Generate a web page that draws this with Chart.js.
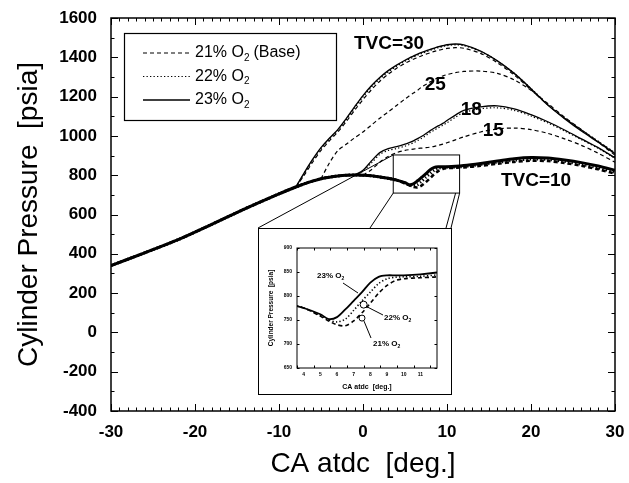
<!DOCTYPE html>
<html>
<head>
<meta charset="utf-8">
<script src="https://cdn.jsdelivr.net/npm/chart.js@4.4.1/dist/chart.umd.min.js"></script>
<style>
  body { margin: 0; background: #fff; }
  #wrap { position: relative; width: 629px; height: 483px; }
  #inset { position: absolute; left: 258px; top: 228px; width: 194px; height: 167px; background: #fff; border: 1.5px solid #000; box-sizing: border-box; }
  #inset canvas { position: absolute; left: 0; top: 0; }
</style>
</head>
<body>
<div id="wrap">
  <canvas id="pressureChart" width="629" height="483"></canvas>
  <div id="inset"><canvas id="insetChart" width="191" height="164"></canvas></div>
</div>
<script>
// crank angle (deg atdc), shared by every curve
const ca = [-30, -26, -22, -18, -14, -10, -8, -7, -6, -5, -4, -3, -2, -1, 0, 1, 2, 3, 4, 5,
  5.5, 6, 6.5, 7, 7.5, 8, 8.5, 9, 9.5, 10, 11, 12, 14, 16, 18, 20, 22, 24, 26, 28, 30];

// compression part, common to all cases
const motoring = [340, 405, 472, 550, 630, 705, 740, 756, 770, 782, 790, 796, 800, 801, 800, 797, 791, 784, 775];

// TVC=10
const o23_tvc10 = motoring.concat([762, 752, 756, 772, 790, 808, 828, 840, 843, 843, 843, 845, 849, 860, 872, 884, 890, 887, 877, 864, 847, 825]);
const o22_tvc10 = motoring.concat([760, 750, 746, 752, 770, 790, 808, 826, 836, 839, 840, 841, 844, 854, 865, 876, 882, 880, 870, 856, 838, 815]);
const o21_tvc10 = motoring.concat([758, 748, 740, 738, 748, 765, 785, 806, 822, 832, 836, 838, 840, 848, 858, 868, 874, 872, 862, 848, 830, 808]);

// TVC=30
const o23_tvc30 = [null, null, null, null, null, null, 740, 812, 880, 940, 988, 1032, 1088, 1148, 1205, 1255, 1297, 1332, 1360, 1385,
  1396, 1406, 1416, 1425, 1433, 1440, 1447, 1454, 1459, 1464, 1468, 1463, 1432, 1382, 1318, 1240, 1157, 1088, 1025, 968, 910];
const o22_tvc30 = [null, null, null, null, null, null, 740, 808, 876, 936, 984, 1028, 1083, 1142, 1199, 1249, 1291, 1326, 1355, 1380,
  1391, 1401, 1411, 1420, 1428, 1436, 1443, 1450, 1455, 1460, 1464, 1460, 1430, 1381, 1318, 1241, 1160, 1092, 1030, 972, 914];
const o21_tvc30 = [null, null, null, null, null, null, 740, 800, 866, 926, 975, 1020, 1072, 1130, 1185, 1235, 1278, 1314, 1344, 1369,
  1380, 1390, 1399, 1408, 1416, 1423, 1430, 1436, 1441, 1445, 1449, 1446, 1420, 1372, 1310, 1235, 1158, 1090, 1030, 972, 912];

// TVC=25 (base only)
const o21_tvc25 = [null, null, null, null, null, null, null, null, null, 782, 862, 925, 957, 990, 1020, 1055, 1090, 1122, 1155, 1188,
  1203, 1218, 1232, 1250, 1262, 1275, 1287, 1297, 1305, 1312, 1322, 1328, 1330, 1318, 1285, 1232, 1165, 1095, 1032, 968, 902];

// TVC=18
const o23_tvc18 = [null, null, null, null, null, null, null, null, null, null, null, null, null, 801, 825, 872, 915, 935, 945, 958,
  966, 975, 986, 998, 1012, 1027, 1040, 1052, 1064, 1078, 1106, 1130, 1148, 1153, 1138, 1108, 1072, 1030, 985, 940, 888];
const o22_tvc18 = [null, null, null, null, null, null, null, null, null, null, null, null, null, 801, 820, 862, 905, 926, 936, 948,
  956, 965, 976, 988, 1002, 1017, 1030, 1042, 1054, 1067, 1095, 1119, 1138, 1143, 1130, 1101, 1066, 1025, 981, 937, 886];

// TVC=15 (base only)
const o21_tvc15 = [null, null, null, null, null, null, null, null, null, null, null, null, null, null, 800, 828, 866, 895, 915, 926,
  930, 933, 936, 938, 940, 943, 947, 952, 958, 965, 980, 995, 1020, 1035, 1040, 1032, 1013, 985, 952, 912, 866];

const xTicks = [-30, -20, -10, 0, 10, 20, 30];
const yTicks = [-400, -200, 0, 200, 400, 600, 800, 1000, 1200, 1400, 1600];
const insetXTicks = [4, 5, 6, 7, 8, 9, 10, 11];
const insetYTicks = [650, 700, 750, 800, 850, 900];

const FONT = '"Liberation Sans", Arial, Helvetica, sans-serif';
const DASH = [4, 3], DOT = [1.3, 2.2];

function pts(vals) {
  return ca.map((x, i) => ({ x: x, y: vals[i] }));
}
function line(vals, dash, w) {
  return { data: pts(vals), borderColor: '#000', borderWidth: w, borderDash: dash,
    pointRadius: 0, tension: 0.3, fill: false, spanGaps: false };
}

// inward ticks on all four sides plus the frame
function drawFrame(chart, o) {
  const { ctx, chartArea: a, scales: { x, y } } = chart;
  ctx.save();
  ctx.strokeStyle = '#000';
  ctx.lineWidth = o.frameWidth;
  ctx.strokeRect(a.left, a.top, a.right - a.left, a.bottom - a.top);
  ctx.lineWidth = 1;
  ctx.beginPath();
  for (let v = x.min; v <= x.max + 1e-6; v += o.xMinor) {
    const px = Math.round(x.getPixelForValue(v)) + 0.5;
    const isMajor = Math.abs(v / o.xMajor - Math.round(v / o.xMajor)) < 1e-6;
    const len = isMajor ? o.major : o.minor;
    ctx.moveTo(px, a.bottom); ctx.lineTo(px, a.bottom - len);
    ctx.moveTo(px, a.top); ctx.lineTo(px, a.top + len);
  }
  for (let v = y.min; v <= y.max + 1e-6; v += o.yMinor) {
    const py = Math.round(y.getPixelForValue(v)) + 0.5;
    const isMajor = Math.abs(v / o.yMajor - Math.round(v / o.yMajor)) < 1e-6;
    const len = isMajor ? o.major : o.minor;
    ctx.moveTo(a.left, py); ctx.lineTo(a.left + len, py);
    ctx.moveTo(a.right, py); ctx.lineTo(a.right - len, py);
  }
  ctx.stroke();
  ctx.restore();
}

// text with a subscript 2 after "O"
function o2Text(ctx, pre, post, x, y, size, bold) {
  const w = bold ? 'bold ' : '';
  ctx.font = w + size + 'px ' + FONT;
  ctx.fillText(pre, x, y);
  let cx = x + ctx.measureText(pre).width;
  ctx.font = w + Math.round(size * 0.62) + 'px ' + FONT;
  ctx.fillText('2', cx, y + size * 0.3);
  cx += ctx.measureText('2').width;
  if (post) {
    ctx.font = w + size + 'px ' + FONT;
    ctx.fillText(post, cx + size * 0.25, y);
  }
}

const mainDecor = {
  id: 'mainDecor',
  afterDraw(chart) {
    drawFrame(chart, { frameWidth: 1.5, xMajor: 10, xMinor: 1, yMajor: 200, yMinor: 100, major: 7, minor: 3.5 });
    const { ctx, scales: { x, y } } = chart;
    ctx.save();
    ctx.fillStyle = '#000';
    ctx.strokeStyle = '#000';

    // curve labels
    ctx.font = 'bold 19px ' + FONT;
    ctx.textAlign = 'center';
    ctx.textBaseline = 'middle';
    ctx.fillText('TVC=30', x.getPixelForValue(3.1), y.getPixelForValue(1468));
    ctx.fillText('25', x.getPixelForValue(8.6), y.getPixelForValue(1259));
    ctx.fillText('18', x.getPixelForValue(12.9), y.getPixelForValue(1132));
    ctx.fillText('15', x.getPixelForValue(15.5), y.getPixelForValue(1025));
    ctx.fillText('TVC=10', x.getPixelForValue(20.6), y.getPixelForValue(770));

    // legend box
    ctx.lineWidth = 1.2;
    ctx.strokeRect(124.5, 33.5, 212, 87);
    const rows = [[DASH, 1.2, '(Base)', 21], [DOT, 1.2, '', 22], [[], 1.4, '', 23]];
    ctx.textAlign = 'left';
    rows.forEach((r, i) => {
      const ly = 53 + i * 23.5;
      ctx.setLineDash(r[0]);
      ctx.lineWidth = r[1];
      ctx.beginPath();
      ctx.moveTo(143, ly); ctx.lineTo(190, ly);
      ctx.stroke();
      ctx.setLineDash([]);
      o2Text(ctx, r[3] + '% O', r[2], 195, ly, 16, false);
    });

    // zoom window and its connectors to the inset
    const bx0 = x.getPixelForValue(3.6), bx1 = x.getPixelForValue(11.5);
    const by0 = y.getPixelForValue(903), by1 = y.getPixelForValue(709);
    ctx.lineWidth = 1;
    ctx.strokeRect(bx0, by0, bx1 - bx0, by1 - by0);
    ctx.beginPath();
    ctx.moveTo(bx0, by0); ctx.lineTo(258, 228);
    ctx.moveTo(bx0, by1); ctx.lineTo(370, 228);
    ctx.moveTo(bx1, by1); ctx.lineTo(451, 228);
    ctx.moveTo(bx1 - 4, by1); ctx.lineTo(446, 228);
    ctx.stroke();
    ctx.restore();
  }
};

new Chart(document.getElementById('pressureChart').getContext('2d'), {
  type: 'line',
  data: {
    datasets: [
      line(o21_tvc10, DASH, 2.6),
      line(o22_tvc10, DOT, 3),
      line(o23_tvc10, [], 3),
      line(o21_tvc15, DASH, 1.2),
      line(o22_tvc18, DOT, 1.2),
      line(o23_tvc18, [], 1.3),
      line(o21_tvc25, DASH, 1.2),
      line(o21_tvc30, DASH, 1.2),
      line(o22_tvc30, DOT, 1.4),
      line(o23_tvc30, [], 1.4)
    ]
  },
  options: {
    responsive: false,
    animation: false,
    devicePixelRatio: 1,
    layout: { padding: { top: 18, right: 0, left: 0, bottom: 0 } },
    plugins: { legend: { display: false }, tooltip: { enabled: false } },
    scales: {
      x: {
        type: 'linear', min: -30, max: 30,
        afterBuildTicks: s => { s.ticks = xTicks.map(v => ({ value: v })); },
        afterFit: s => { s.height = 72; s.paddingLeft = 0; s.paddingRight = 14; },
        grid: { display: false, drawTicks: false },
        border: { display: false },
        ticks: { color: '#000', padding: 11, font: { family: FONT, size: 17, weight: 'bold' }, maxRotation: 0, callback: v => String(v) },
        title: { display: true, text: 'CA atdc  [deg.]', color: '#000', font: { family: FONT, size: 28 }, padding: { top: 2, bottom: 2 } }
      },
      y: {
        type: 'linear', min: -400, max: 1600,
        afterBuildTicks: s => { s.ticks = yTicks.map(v => ({ value: v })); },
        afterFit: s => { s.width = 111; s.paddingTop = 0; s.paddingBottom = 0; },
        grid: { display: false, drawTicks: false },
        border: { display: false },
        ticks: { color: '#000', padding: 14, font: { family: FONT, size: 17, weight: 'bold' }, callback: v => String(v) },
        title: { display: true, text: 'Cylinder Pressure  [psia]', color: '#000', font: { family: FONT, size: 28 }, padding: { top: 12, bottom: 0 } }
      }
    }
  },
  plugins: [mainDecor]
});

const insetDecor = {
  id: 'insetDecor',
  afterDraw(chart) {
    drawFrame(chart, { frameWidth: 1, xMajor: 1, xMinor: 1, yMajor: 50, yMinor: 50, major: 2.5, minor: 2.5 });
    const { ctx, scales: { x, y } } = chart;
    ctx.save();
    ctx.fillStyle = '#000';
    ctx.strokeStyle = '#000';
    ctx.lineWidth = 1;
    ctx.textBaseline = 'middle';
    ctx.textAlign = 'left';
    // 23 %
    o2Text(ctx, '23% O', '', 58, 47, 8, true);
    ctx.beginPath();
    ctx.moveTo(84, 54); ctx.lineTo(99, 64);
    ctx.stroke();
    // 22 %
    const c22x = x.getPixelForValue(7.6), c22y = y.getPixelForValue(782);
    ctx.beginPath(); ctx.arc(c22x, c22y, 3.5, 0, Math.PI * 2); ctx.stroke();
    ctx.beginPath(); ctx.moveTo(c22x + 3, c22y + 2); ctx.lineTo(124, 86); ctx.stroke();
    o2Text(ctx, '22% O', '', 125, 89, 8, true);
    // 21 %
    const c21x = x.getPixelForValue(7.5), c21y = y.getPixelForValue(754);
    ctx.beginPath(); ctx.arc(c21x, c21y, 3, 0, Math.PI * 2); ctx.stroke();
    ctx.beginPath(); ctx.moveTo(c21x + 2, c21y + 3); ctx.lineTo(112, 109); ctx.stroke();
    o2Text(ctx, '21% O', '', 114, 115, 8, true);
    ctx.restore();
  }
};

new Chart(document.getElementById('insetChart').getContext('2d'), {
  type: 'line',
  data: {
    datasets: [
      line(o21_tvc10, DASH, 1.6),
      line(o22_tvc10, DOT, 1.6),
      line(o23_tvc10, [], 1.8)
    ]
  },
  options: {
    responsive: false,
    animation: false,
    devicePixelRatio: 1,
    layout: { padding: { top: 19, right: 13, left: 0, bottom: 0 } },
    plugins: { legend: { display: false }, tooltip: { enabled: false } },
    scales: {
      x: {
        type: 'linear', min: 3.6, max: 12,
        afterBuildTicks: s => { s.ticks = insetXTicks.map(v => ({ value: v })); },
        afterFit: s => { s.height = 25; },
        grid: { display: false, drawTicks: false },
        border: { display: false },
        ticks: { color: '#000', padding: 4, font: { family: FONT, size: 5, weight: 'bold' }, maxRotation: 0 },
        title: { display: true, text: 'CA atdc  [deg.]', color: '#000', font: { family: FONT, size: 7, weight: 'bold' }, padding: { top: 1, bottom: 2 } }
      },
      y: {
        type: 'linear', min: 650, max: 900,
        afterBuildTicks: s => { s.ticks = insetYTicks.map(v => ({ value: v })); },
        afterFit: s => { s.width = 38; },
        grid: { display: false, drawTicks: false },
        border: { display: false },
        ticks: { color: '#000', padding: 5, font: { family: FONT, size: 5, weight: 'bold' } },
        title: { display: true, text: 'Cylinder Pressure  [psia]', color: '#000', font: { family: FONT, size: 6.5, weight: 'bold' }, padding: { top: 8, bottom: 0 } }
      }
    }
  },
  plugins: [insetDecor]
});
</script>
</body>
</html>
